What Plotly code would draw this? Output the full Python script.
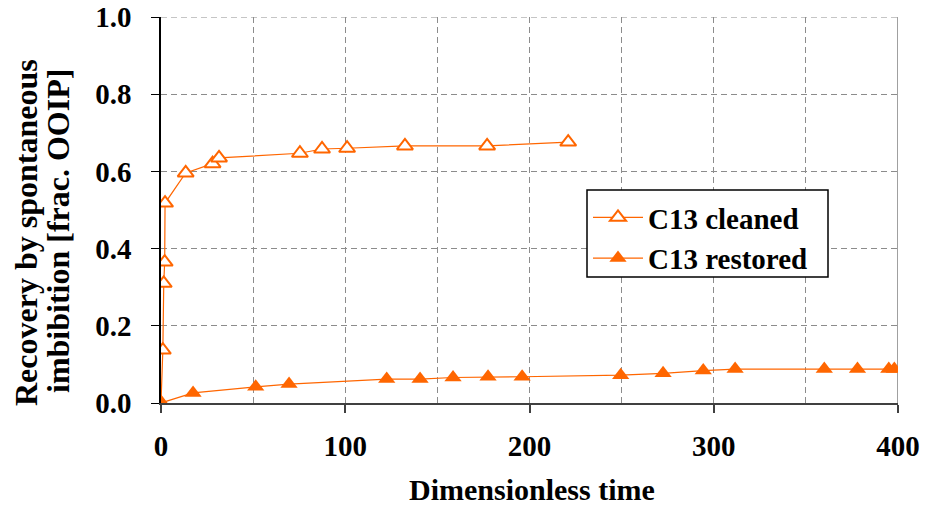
import plotly.graph_objects as go

cleaned_x = [0, 1, 1.5, 2, 2.2, 13.4, 28, 31.5, 75.4, 87.4, 101, 132.4, 177, 221]
cleaned_y = [0, 0.137, 0.31, 0.365, 0.518, 0.596, 0.62, 0.635, 0.647, 0.658, 0.66, 0.666, 0.666, 0.676]

restored_x = [0, 17.4, 51.4, 69.5, 122.5, 140.6, 158.5, 177.5, 196, 249.5, 272.5, 294.3, 311.6, 360, 378, 395, 398]
restored_y = [0, 0.026, 0.042, 0.049, 0.062, 0.062, 0.066, 0.068, 0.068, 0.072, 0.077, 0.084, 0.088, 0.088, 0.088, 0.088, 0.088]

x_ticks = [0, 100, 200, 300, 400]
y_ticks = [0.0, 0.2, 0.4, 0.6, 0.8, 1.0]

x_title = "Dimensionless time"
y_title_lines = ["Recovery by spontaneous", "imbibition [frac. OOIP]"]

ORANGE = "#FF6600"
FONT = "Liberation Serif, Times New Roman, serif"
GRID = "#8C8C8C"

# page body margin is removed via post_script, so figure fills the window
W, H = 928, 505
PL, PR, PT, PB = 161, 898, 17, 403  # plot area in figure px


def px_to_paper_x(sx):
    return (sx - PL) / (PR - PL)


def px_to_paper_y(sy):
    return (PB - sy) / (PB - PT)


fig = go.Figure()
fig.add_trace(go.Scatter(
    x=cleaned_x, y=cleaned_y, mode="lines+markers", name="C13 cleaned",
    line=dict(color=ORANGE, width=1.2),
    marker=dict(symbol="triangle-up", size=14, color="white",
                line=dict(color=ORANGE, width=2)),
))
fig.add_trace(go.Scatter(
    x=restored_x, y=restored_y, mode="lines+markers", name="C13 restored",
    line=dict(color=ORANGE, width=1.2),
    marker=dict(symbol="triangle-up", size=15, color=ORANGE,
                line=dict(color=ORANGE, width=0)),
))

# solid right border gridline at x=400
fig.add_shape(type="line", xref="x", yref="paper", x0=400, x1=400, y0=0, y1=1,
              line=dict(color="#808080", width=1.5), layer="below")
# dashed top gridline at y=1.0
fig.add_shape(type="line", xref="paper", yref="y", x0=0, x1=1, y0=1.0, y1=1.0,
              line=dict(color=GRID, width=1, dash="6px,4px"), layer="below")

# legend box
fig.add_shape(type="rect", xref="paper", yref="paper",
              x0=px_to_paper_x(587), x1=px_to_paper_x(828),
              y0=px_to_paper_y(277), y1=px_to_paper_y(190),
              line=dict(color="black", width=1.5), fillcolor="white", layer="above")

# axis titles as annotations for precise placement
fig.add_annotation(text=x_title, xref="paper", yref="paper",
                   x=px_to_paper_x(532), y=px_to_paper_y(490),
                   xanchor="center", yanchor="middle", showarrow=False,
                   font=dict(family=FONT, size=30, color="black", weight="bold"))
fig.add_annotation(text=y_title_lines[0], xref="paper", yref="paper",
                   x=px_to_paper_x(26), y=px_to_paper_y(233),
                   xanchor="center", yanchor="middle", showarrow=False, textangle=-90,
                   font=dict(family=FONT, size=32, color="black", weight="bold"))
fig.add_annotation(text=y_title_lines[1], xref="paper", yref="paper",
                   x=px_to_paper_x(58), y=px_to_paper_y(231),
                   xanchor="center", yanchor="middle", showarrow=False, textangle=-90,
                   font=dict(family=FONT, size=32, color="black", weight="bold"))

fig.update_layout(
    width=W, height=H,
    margin=dict(l=PL, r=W - PR, t=PT, b=H - PB),
    paper_bgcolor="white", plot_bgcolor="white",
    font=dict(family=FONT, size=29, color="black", weight="bold"),
    showlegend=True,
    legend=dict(
        x=px_to_paper_x(588), y=px_to_paper_y(192), xanchor="left", yanchor="top",
        bgcolor="rgba(0,0,0,0)", borderwidth=0,
        font=dict(family=FONT, size=29, color="black", weight="bold"),
        itemwidth=50,
    ),
    xaxis=dict(
        range=[0, 400], tickvals=x_ticks, ticktext=[str(v) for v in x_ticks],
        showgrid=True, gridcolor=GRID, gridwidth=1, griddash="6px,4px",
        minor=dict(dtick=50, tick0=0, showgrid=True, gridcolor=GRID,
                   gridwidth=1, griddash="6px,4px", ticks=""),
        showline=True, linecolor="#404040", linewidth=2,
        ticks="outside", ticklen=8, tickcolor="#404040", tickwidth=1.5,
        zeroline=False, automargin=False,
        tickfont=dict(family=FONT, size=29, weight="bold"),
        ticklabelstandoff=8, ticklabeloverflow="allow",
    ),
    yaxis=dict(
        range=[0, 1.0], tickvals=y_ticks, ticktext=[f"{v:.1f}" for v in y_ticks],
        showgrid=True, gridcolor=GRID, gridwidth=1, griddash="6px,4px",
        showline=True, linecolor="black", linewidth=1.5,
        ticks="outside", ticklen=8, tickcolor="black", tickwidth=1.2,
        zeroline=False, automargin=False,
        tickfont=dict(family=FONT, size=29, weight="bold"),
        ticklabelstandoff=14, ticklabeloverflow="allow",
    ),
)

fig.write_html(
    "out.html",
    config={"displayModeBar": False},
    post_script="document.body.style.margin='0';document.body.style.overflow='hidden';",
)
